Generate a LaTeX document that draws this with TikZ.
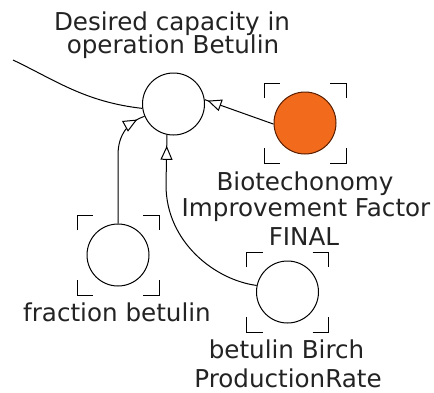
\documentclass[tikz,border=0pt]{standalone}
\usepackage{fontspec}
\setmainfont{DejaVu Sans}
\usetikzlibrary{arrows.meta,decorations.markings}
\definecolor{orng}{RGB}{242,106,27}
\definecolor{orngd}{RGB}{90,30,0}
\definecolor{txt}{RGB}{35,35,35}
\newcommand\cornerbox[1]{%
  \draw[conn] ([shift={(-41,-25)}]#1.center) -- ++(0,-15) -- ++(16,0);
  \draw[conn] ([shift={(25,-40)}]#1.center) -- ++(16,0) -- ++(0,15);
  \draw[conn] ([shift={(-41,25)}]#1.center) -- ++(0,15) -- ++(16,0);
  \draw[conn] ([shift={(25,40)}]#1.center) -- ++(16,0) -- ++(0,-15);
}
\begin{document}
\begin{tikzpicture}[x=1pt,y=-1pt,
  lbl/.style={anchor=base, inner sep=0pt, text=txt, font=\fontsize{24.6}{27}\selectfont},
  var/.style={circle, draw=black, line width=1pt, minimum size=62pt, inner sep=0pt},
  conn/.style={line width=1pt},
  tipmark/.style={postaction={decorate}, decoration={markings,
    mark=at position -#1 with {\arrow[line width=1pt]{Triangle[open,fill=white,length=14pt,width=12pt]}}}}
]
\useasboundingbox[fill=white] (0,0) rectangle (434,392);

\node[var] (M) at (173.5,104) {};
\node[var, fill=orng, draw=orngd] (O) at (305,123) {};
\node[var] (F) at (118,255) {};
\node[var] (B) at (287.5,292) {};

\cornerbox{O}
\cornerbox{F}
\cornerbox{B}

\node[lbl] (t1) at (172,30) {Desired capacity in};
\node[lbl] (t2) at (173,53) {operation Betulin};
\node[lbl] (t3) at (305,190) {Biotechonomy};
\node[lbl] (t4) at (306,216.5) {Improvement Factor};
\node[lbl] (t5) at (304,245) {FINAL};
\node[lbl] (t6) at (117,321) {fraction betulin};
\node[lbl] (t7) at (286.5,358) {betulin Birch};
\node[lbl] (t8) at (288,387) {ProductionRate};

\coordinate (src) at (13,60);
\draw[conn] (src) .. controls (55,80) and (85,102) .. (M.188);
\draw[conn, tipmark=3pt] (O.182) -- (M.8);
\draw[conn, tipmark=8pt] (F.north) -- (118,155) .. controls (118,135) and (128,122) .. (M.203);
\draw[conn, tipmark=11pt] (B.168) .. controls (215,280) and (166,242) .. (166,185) -- (M.258);
\end{tikzpicture}
\end{document}
